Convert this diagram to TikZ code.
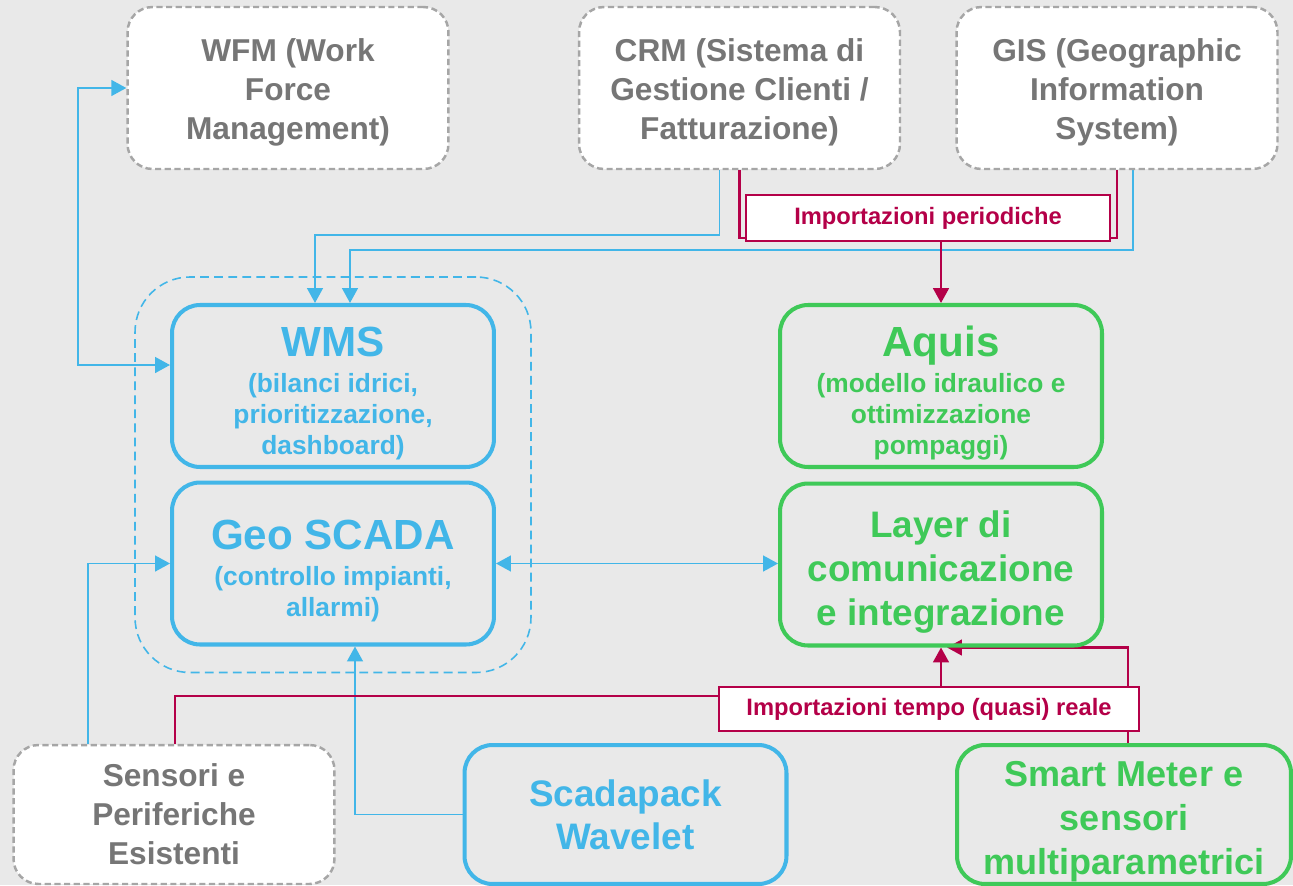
\documentclass[tikz,border=0pt]{standalone}
\usepackage{fontspec}
\setmainfont{Liberation Sans}
\usetikzlibrary{arrows.meta,calc,fit}
\definecolor{wmsblue}{RGB}{66,182,232}
\definecolor{aquisgreen}{RGB}{63,201,88}
\definecolor{extgray}{RGB}{118,118,118}
\definecolor{extborder}{RGB}{166,166,166}
\definecolor{importred}{RGB}{180,0,72}
\definecolor{canvas}{RGB}{233,233,233}
\pgfdeclarelayer{canvaslayer}
\pgfdeclarelayer{linklayer}
\pgfsetlayers{canvaslayer,linklayer,main}
\newcommand{\lift}[1]{\rule{0pt}{#1}}
\newcommand{\boxtitle}[1]{{\fontsize{24}{24}\selectfont\lift{25pt}#1}}
\begin{document}
\begin{tikzpicture}[x=0.02cm, y=-0.02cm,
    extbox/.style={draw=extborder, line width=1.4pt, dash pattern=on 3.5pt off 2pt, fill=white,
      rounded corners=0.5cm, text=extgray, align=center, font=\bfseries\fontsize{18}{22.1}\selectfont,
      minimum width=6.42cm, minimum height=3.24cm},
    bluebox/.style={draw=wmsblue, line width=2.3pt, solid, rounded corners=0.56cm, text=wmsblue,
      align=center, font=\bfseries\fontsize{15}{17.6}\selectfont, minimum width=6.44cm, minimum height=3.24cm},
    greenbox/.style={bluebox, draw=aquisgreen, text=aquisgreen},
    groupbox/.style={draw=wmsblue, line width=0.9pt, dash pattern=on 5pt off 3pt, rounded corners=1.1cm,
      inner xsep=0.7cm, inner ysep=0.52cm},
    importbox/.style={draw=importred, line width=1.2pt, fill=white, text=importred, inner sep=0pt,
      font=\bfseries\fontsize{13.5}{16}\selectfont, minimum width=7.28cm, minimum height=0.92cm},
    bluelink/.style={draw=wmsblue, line width=1.1pt, solid},
    redlink/.style={draw=importred, line width=1.3pt, solid},
    tip/.style={-{Triangle[length=8.5pt,width=9pt]}},
    tips/.style={{Triangle[length=8.5pt,width=9pt]}-{Triangle[length=8.5pt,width=9pt]}}]
  \useasboundingbox (0,0) rectangle (1293,885);
  \begin{pgfonlayer}{canvaslayer}
    \fill[canvas] (0,0) rectangle (1293,885);
  \end{pgfonlayer}

  \node[extbox] (wfm) at (288,88) {\lift{18pt}WFM (Work\\Force\\Management)};
  \node[extbox] (crm) at (739.5,88) {\lift{18pt}CRM (Sistema di\\Gestione Clienti /\\Fatturazione)};
  \node[extbox] (gis) at (1117,88) {\lift{18pt}GIS (Geographic\\Information\\System)};
  \node[bluebox] (wms) at (333,386) {\boxtitle{WMS}\\[2.8pt](bilanci idrici,\\prioritizzazione,\\dashboard)};
  \node[bluebox] (geo) at (333,563.5) {\boxtitle{Geo SCADA}\\[2.8pt](controllo impianti,\\allarmi)};
  \node[groupbox, fit=(wms)(geo)] (wmsgroup) {};
  \node[greenbox] (aquis) at (941,386) {\boxtitle{Aquis}\\[2.8pt](modello idraulico e\\ottimizzazione\\pompaggi)};
  \node[greenbox, font=\bfseries\fontsize{21}{25}\selectfont] (layer) at (941,564.5) {\lift{24pt}Layer di\\comunicazione\\e integrazione};
  \node[extbox, minimum height=2.78cm] (sens) at (174,814.5) {Sensori e\\Periferiche\\Esistenti};
  \node[bluebox, minimum height=2.78cm, font=\bfseries\fontsize{21}{24.4}\selectfont] (scada) at (625.5,814.5) {Scadapack\\Wavelet};
  \node[greenbox, minimum height=2.78cm, minimum width=6.68cm, inner ysep=0pt, font=\bfseries\fontsize{20.5}{25}\selectfont] (smart) at (1124,814.5) {\lift{22pt}Smart Meter e\\sensori\\multiparametrici};
  \node[importbox] (imp1) at (928,218) {Importazioni periodiche};
  \node[importbox, minimum width=8.4cm, minimum height=0.88cm] (imp2) at (929,709) {Importazioni tempo (quasi) reale};

  \begin{pgfonlayer}{linklayer}
    \draw[bluelink, tips] (wfm.west) -- ++(-48,0) |- ($(wms.west)+(0,-21)$);
    \draw[bluelink, tip] ($(crm.south)+(-20,0)$) |- ($(wms.north)+(-18,-68)$) -- ($(wms.north)+(-18,0)$);
    \draw[bluelink, tip] ($(gis.south)+(16,0)$) |- ($(wms.north)+(17,-53)$) -- ($(wms.north)+(17,0)$);
    \draw[bluelink, tip] ($(sens.north)+(-86,0)$) |- (geo.west);
    \draw[bluelink, tip] (scada.west) -| ($(geo.south)+(22,0)$);
    \draw[bluelink, tips] (geo.east) -- (geo.east -| layer.west);
    \draw[redlink] (crm.south) |- ($(imp1.west)+(0,20)$);
    \draw[redlink] (gis.south) |- ($(imp1.east)+(0,20)$);
    \draw[redlink, tip] (imp1.south -| aquis.north) -- (aquis.north);
    \draw[redlink] ($(sens.north)+(1,0)$) |- ($(imp2.west)+(0,-13)$);
    \draw[redlink, tip] (imp2.north -| layer.south) -- (layer.south);
    \draw[redlink, tip] ($(smart.north)+(4,0)$) |- ($(layer.south)+(6,0)$);
  \end{pgfonlayer}
\end{tikzpicture}
\end{document}
